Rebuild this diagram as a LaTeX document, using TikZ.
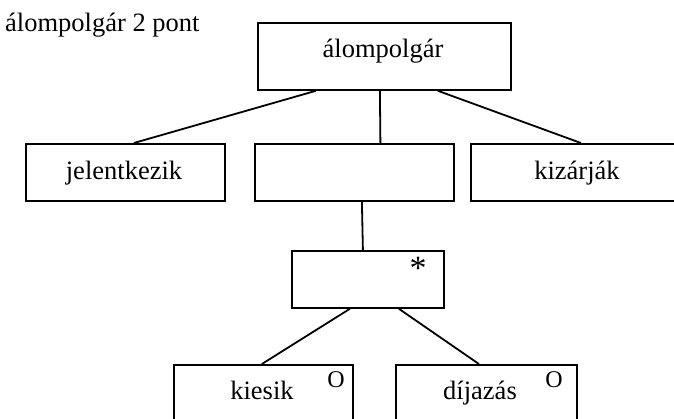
\documentclass[tikz,border=0pt]{standalone}
\usepackage{fontspec}
\setmainfont{Liberation Serif}
\begin{document}
\begin{tikzpicture}[x=1pt,y=-1pt,
  box/.style={draw,line width=1.8pt,inner sep=0pt,anchor=north west},
  conn/.style={line width=1.8pt},
  txt/.style={inner sep=0pt,anchor=base,font=\fontsize{26.5}{32}\selectfont},
  omark/.style={inner sep=0pt,anchor=center,font=\fontsize{24}{28}\selectfont},
  smark/.style={inner sep=0pt,anchor=center,font=\fontsize{34}{40}\selectfont}]
\useasboundingbox (0,0) rectangle (674,419);
\clip (0,0) rectangle (674,419);
% boxes
\node[box,minimum width=253pt,minimum height=67pt] (top) at (257,22) {};
\node[box,minimum width=199pt,minimum height=57pt] (jel) at (25,143) {};
\node[box,minimum width=199pt,minimum height=57pt] (mid) at (254,143) {};
\node[box,minimum width=220pt,minimum height=57pt] (kiz) at (470,143) {};
\node[box,minimum width=152pt,minimum height=57pt] (star) at (291,250) {};
\node[box,minimum width=179pt,minimum height=80pt] (kie) at (173,364) {};
\node[box,minimum width=181pt,minimum height=80pt] (dij) at (395,364) {};
% texts
\node[txt,anchor=base west] (title) at (5,32) {álompolgár 2 pont};
\node[txt] (ttop) at (383,58) {álompolgár};
\node[txt] (tjel) at (124,180) {jelentkezik};
\node[txt] (tkiz) at (577,180) {kizárják};
\node[txt] (tkie) at (262,399) {kiesik};
\node[txt] (tdij) at (480,399) {díjazás};
\node[smark] (ast) at (418,268) {*};
\node[omark] (o1) at (336,380) {O};
\node[omark] (o2) at (554,380) {O};
% connectors
\draw[conn] ([xshift=-68.5pt]top.south) -- ([xshift=8.5pt]jel.north);
\draw[conn] ([xshift=-4.5pt]top.south) -- ([xshift=26pt]mid.north);
\draw[conn] ([xshift=53.5pt]top.south) -- (kiz.north);
\draw[conn] ([xshift=7.5pt]mid.south) -- ([xshift=-5pt]star.north);
\draw[conn] ([xshift=-18pt]star.south) -- ([xshift=-1.5pt]kie.north);
\draw[conn] ([xshift=31pt]star.south) -- ([xshift=-7.5pt]dij.north);
\end{tikzpicture}
\end{document}
